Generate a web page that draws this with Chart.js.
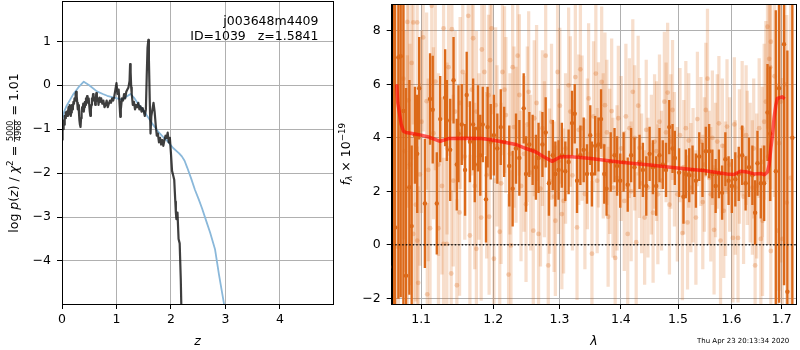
<!DOCTYPE html>
<html><head><meta charset="utf-8">
<script src="https://cdn.jsdelivr.net/npm/chart.js@4"></script>
<style>
html,body{margin:0;padding:0;background:#fff;}
#wrap{position:relative;width:800px;height:350px;}
canvas{position:absolute;left:0;top:0;}
</style></head><body>
<div id="wrap"><canvas id="c1" width="800" height="350"></canvas><canvas id="c2" width="800" height="350"></canvas></div>
<script>
// ---------- Left panel data ----------
const zTicks = [0, 1, 2, 3, 4];
const pzTicks = [-4, -3, -2, -1, 0, 1];
const zGrid = [0.00,0.01,0.02,0.03,0.04,0.05,0.06,0.07,0.08,0.09,0.10,0.11,0.12,0.13,0.14,0.15,0.16,0.17,0.18,0.19,0.20,0.21,0.22,0.23,0.24,0.25,0.26,0.27,0.28,0.29,0.30,0.31,0.32,0.33,0.34,0.35,0.36,0.37,0.38,0.39,0.40,0.41,0.42,0.43,0.44,0.45,0.46,0.47,0.48,0.49,0.50,0.51,0.52,0.53,0.54,0.55,0.56,0.57,0.58,0.59,0.60,0.61,0.62,0.63,0.64,0.65,0.66,0.67,0.68,0.69,0.70,0.72,0.74,0.76,0.78,0.80,0.82,0.84,0.86,0.88,0.90,0.92,0.94,0.96,0.98,1.00,1.02,1.04,1.06,1.07,1.08,1.10,1.12,1.14,1.16,1.18,1.20,1.22,1.24,1.25,1.26,1.27,1.28,1.30,1.32,1.34,1.36,1.38,1.40,1.42,1.44,1.46,1.48,1.50,1.52,1.54,1.555,1.57,1.585,1.595,1.61,1.625,1.64,1.66,1.68,1.70,1.72,1.74,1.76,1.78,1.80,1.82,1.84,1.86,1.88,1.90,1.92,1.94,1.96,1.98,2.00,2.02,2.04,2.06,2.08,2.09,2.10,2.12,2.14,2.16,2.18,2.20];
const logPz = [-1.24,-0.95,-1.0,-0.8,-0.9,-0.7,-0.75,-0.62,-0.68,-0.6,-0.7,-0.62,-0.5,-0.66,-0.45,-0.55,-0.7,-0.62,-0.45,-0.55,-0.5,-0.38,-0.42,-0.3,-0.35,-0.2,-0.15,-0.25,-0.4,-0.55,-0.45,-0.6,-0.8,-0.9,-0.95,-0.75,-0.6,-0.5,-0.55,-0.42,-0.6,-0.5,-0.38,-0.45,-0.3,-0.35,-0.25,-0.3,-0.4,-0.3,-0.45,-0.6,-0.7,-0.55,-0.45,-0.3,-0.35,-0.2,-0.25,-0.35,-0.3,-0.45,-0.3,-0.18,-0.25,-0.35,-0.3,-0.45,-0.35,-0.28,-0.38,-0.3,-0.42,-0.35,-0.5,-0.45,-0.35,-0.5,-0.42,-0.35,-0.4,-0.3,-0.35,-0.25,-0.1,0.05,-0.2,-0.1,-0.5,-0.72,-0.55,-0.3,-0.35,-0.2,-0.3,-0.15,-0.1,-0.05,0.1,0.48,0.3,-0.05,-0.2,-0.45,-0.38,-0.55,-0.45,-0.5,-0.4,-0.55,-0.48,-0.6,-0.52,-0.6,-0.7,-0.55,0.2,0.85,1.03,0.6,-0.3,-1.1,-0.7,-0.55,-0.4,-0.6,-0.9,-1.15,-1.1,-1.3,-1.2,-1.35,-1.25,-1.38,-1.25,-1.15,-1.2,-1.08,-1.3,-1.2,-1.55,-1.95,-2.05,-2.15,-2.65,-2.9,-3.05,-2.9,-3.5,-3.6,-4.4,-5.6];
const zPrior = [0,0.04,0.08,0.14,0.2,0.3,0.4,0.5,0.64,0.75,0.83,0.92,1.01,1.1,1.18,1.26,1.32,1.39,1.48,1.57,1.66,1.76,1.85,1.94,2.04,2.15,2.2,2.25,2.3,2.37,2.44,2.51,2.57,2.65,2.72,2.81,2.88,2.97,3.0];
const priorVals = [-0.83,-0.6,-0.48,-0.35,-0.22,-0.05,0.08,0.0,-0.14,-0.2,-0.24,-0.27,-0.3,-0.33,-0.26,-0.2,-0.28,-0.41,-0.55,-0.71,-0.88,-1.05,-1.17,-1.28,-1.43,-1.55,-1.62,-1.72,-1.88,-2.12,-2.38,-2.6,-2.8,-3.1,-3.36,-3.74,-4.3,-4.95,-5.2];

// ---------- Right panel data ----------
const lamTicks = [1.1, 1.2, 1.3, 1.4, 1.5, 1.6, 1.7];
const fluxTicks = [-2, 0, 2, 4, 6, 8];
const darkLam = [1.0638,1.066,1.0702,1.0732,1.0767,1.0801,1.0845,1.0875,1.0918,1.0948,1.0974,1.105,1.1119,1.1155,1.121,1.1256,1.1324,1.1347,1.1393,1.1439,1.1484,1.1507,1.1553,1.1599,1.1622,1.1667,1.1713,1.1736,1.1782,1.1814,1.185,1.1896,1.1919,1.1964,1.201,1.206,1.211,1.216,1.2235,1.2285,1.2335,1.2385,1.245,1.2485,1.2535,1.2585,1.2635,1.2675,1.2735,1.2785,1.2835,1.2895,1.2935,1.2985,1.3037,1.3091,1.3144,1.3198,1.3241,1.3278,1.3332,1.3385,1.3439,1.3492,1.3519,1.3572,1.3626,1.3669,1.3722,1.376,1.3829,1.3893,1.3936,1.3989,1.4046,1.4116,1.4174,1.4232,1.4319,1.4377,1.4436,1.4494,1.4552,1.461,1.4668,1.4726,1.4784,1.4842,1.4901,1.4942,1.5019,1.5099,1.5142,1.5204,1.5265,1.5327,1.5389,1.545,1.5512,1.5574,1.5635,1.5697,1.5759,1.582,1.5882,1.5944,1.6007,1.6074,1.6141,1.6208,1.6275,1.6342,1.6409,1.6463,1.651,1.6577,1.6644,1.6711,1.6765,1.6879,1.6946,1.7048,1.7117,1.722];
const darkFlux = [-0.83,0.65,7.0,7.05,5.0,-1.15,2.15,0.7,4.1,3.4,5.85,1.55,5.45,5.05,1.55,4.7,5.5,4.65,3.55,6.15,3.0,4.15,4.5,2.8,5.6,3.85,4.5,3.0,4.35,3.35,4.5,1.7,4.4,3.85,4.1,3.6,4.4,3.85,2.95,2.1,3.6,3.25,5.1,2.65,3.75,3.55,2.9,3.25,3.75,4.2,2.3,3.35,2.65,2.8,3.35,2.75,3.1,4.55,4.9,2.4,3.35,3.55,2.65,4.1,2.65,3.7,3.75,4.7,2.65,2.1,3.1,3.35,2.95,2.4,3.1,2.25,3.35,2.9,3.1,2.8,2.2,3.4,2.9,2.2,3.35,3.0,2.8,4.4,3.6,3.25,2.7,1.8,2.65,2.6,2.8,2.4,3.3,2.8,3.5,3.5,2.65,2.2,2.65,1.95,3.2,2.4,2.2,2.45,2.65,3.35,2.3,2.9,2.6,1.2,3.05,2.3,2.3,4.95,4.15,2.75,5.85,7.5,-1.75,4.0];
const darkErr = [10,10,9,9,8,7,4,3,1.8,2.2,1.9,2.4,1.7,2.0,1.9,1.6,1.8,1.5,1.9,1.6,1.7,1.8,1.5,1.7,1.6,1.5,1.7,1.4,1.6,1.5,1.4,1.6,1.5,1.4,1.5,1.3,1.4,1.3,1.5,1.4,1.3,1.4,1.3,1.4,1.2,1.3,1.2,1.3,1.2,1.3,1.2,1.3,1.2,1.1,1.2,1.1,1.2,1.2,1.1,1.2,1.1,1.2,1.1,1.1,1.2,1.1,1.0,1.1,1.1,1.0,1.1,1.0,1.1,1.0,1.1,1.0,1.0,1.1,1.0,1.0,1.1,1.0,1.0,1.1,1.0,0.9,1.0,1.0,0.9,1.0,0.9,1.0,0.9,1.0,0.9,1.0,0.9,1.0,0.9,1.0,0.9,1.0,0.9,1.0,1.0,0.9,1.0,1.0,1.0,1.1,1.0,1.1,1.1,1.2,1.2,1.3,1.4,1.8,2.5,6,8,9,9,10];
const lightLam = [1.0702,1.0767,1.0819,1.0819,1.0853,1.0896,1.0896,1.0948,1.0948,1.0961,1.0983,1.1027,1.1073,1.1082,1.1119,1.1142,1.1165,1.1233,1.1233,1.1302,1.1302,1.1347,1.137,1.1407,1.1416,1.1462,1.1485,1.1522,1.1567,1.1644,1.1667,1.1713,1.1759,1.1759,1.1827,1.1836,1.1873,1.1932,1.1941,1.1978,1.201,1.2035,1.2095,1.2135,1.2185,1.2225,1.226,1.2285,1.2335,1.236,1.241,1.2485,1.2525,1.2595,1.261,1.2675,1.2735,1.2785,1.2825,1.2845,1.2935,1.297,1.2985,1.3037,1.3064,1.3144,1.3171,1.3251,1.3278,1.3332,1.3359,1.3465,1.3519,1.3583,1.3626,1.3679,1.3733,1.3786,1.3813,1.3867,1.3904,1.3957,1.4058,1.4116,1.4145,1.4203,1.4261,1.4319,1.4407,1.4465,1.4581,1.4639,1.4668,1.4755,1.4813,1.4871,1.4901,1.4988,1.508,1.5142,1.5173,1.5234,1.5327,1.542,1.5512,1.5543,1.5605,1.5667,1.5728,1.5759,1.579,1.5852,1.5914,1.6027,1.6074,1.6127,1.6208,1.6309,1.6409,1.6463,1.6544,1.6577,1.6611,1.6678,1.6711,1.6745,1.6765,1.6778,1.6778,1.6912,1.698,1.7014,1.7103,
  1.0785,1.0830,1.0875,1.093,1.1005,1.1095,1.119,1.128,1.135,1.1435,1.153,1.1595,1.1695,1.1735,1.1795,1.1905,1.1955,1.2055,1.2115,1.2165,1.2245,1.2305,1.2385,1.2455,1.2505,1.2555,1.2645,1.2705,1.2765,1.2875,1.2915,1.3005,1.3095,1.3205,1.3305,1.3405,1.3445,1.3545,1.3605,1.3705,1.3765,1.3845,1.3935,1.4005,1.4085,1.4175,1.4235,1.4295,1.4355,1.4435,1.4525,1.4555,1.4615,1.4705,1.4785,1.4845,1.4935,1.5035,1.5105,1.5195,1.5275,1.5355,1.5455,1.5485,1.5575,1.5635,1.5695,1.5825,1.5885,1.5965,1.6055,1.6155,1.6235,1.6285,1.6365,1.6435,1.6495,1.6605,1.6645,1.6725,1.6855,1.6945,1.7065,1.7185];
const lightFlux = [-0.09,6.21,8.33,2.07,3.0,8.31,0.41,8.31,0.16,-1.42,2.63,7.75,5.37,-1.85,0.62,8.93,4.17,0.62,3.0,8.09,0.04,0.04,6.64,-1.07,8.06,4.98,-1.51,1.21,6.46,8.56,0.35,7.72,-0.15,4.98,1.02,7.3,6.46,5.59,1.05,8.09,-0.52,5.22,0.49,6.46,4.85,-1.11,-0.02,6.64,3.74,7.07,2.2,1.52,5.72,0.53,4.73,0.41,4.36,7.07,-0.77,2.38,0.9,6.46,3.12,1.15,1.64,5.96,4.98,6.27,0.65,6.56,4.36,5.47,-0.33,6.4,4.11,6.09,5.22,1.05,3.12,2.14,-0.49,4.73,1.64,0.41,4.36,5.72,0.1,3.62,1.02,2.14,3.86,1.89,4.6,5.35,5.69,3.86,5.04,1.89,0.44,4.36,0.84,2.14,1.02,3.86,5.04,6.21,1.89,0.56,3.86,4.54,0.16,1.27,4.42,0.26,2.14,0.26,4.36,3.25,2.14,-0.77,4.36,0.22,0.9,5.35,8.15,6.95,6.64,7.59,-0.23,0.53,5.35,0.22,1.58,
  3.5,5.4,6.8,1.5,4.6,2.8,6.1,2.2,3.6,2.4,5.3,3.3,5.8,2.2,3.3,2.6,6.9,3.7,2.3,5.8,3.4,4.4,5.6,3.4,4.5,2.7,5.3,2.1,3.2,4.6,1.8,5.2,3.6,2.6,4.3,1.9,3.4,4.8,2.4,3.7,4.2,5.0,2.5,3.6,4.8,2.0,4.0,5.2,2.3,4.3,3.0,1.2,3.5,2.4,4.2,1.5,3.2,4.1,2.9,3.9,2.6,4.7,1.6,3.0,2.5,4.0,2.8,3.7,2.1,3.0,4.5,3.3,1.8,4.1,2.7,3.6,2.2,3.1,4.6,3.3,6.3,3.8,6.0,2.5];
const lightErr = [7,6,5.5,5,4.5,3.8,3.6,3.6,3.5,3.6,3.4,3.5,3.3,3.4,3.3,3.5,3.2,3.3,3.4,3.4,3.2,3.2,3.3,3.1,3.4,3.0,3.2,3.1,3.3,3.4,3.0,3.2,3.1,3.0,3.1,3.3,3.1,3.0,2.9,3.2,3.0,2.9,3.0,3.1,2.9,3.0,2.8,3.1,2.9,3.1,2.8,2.9,3.0,2.8,2.9,2.8,2.9,3.0,2.8,2.7,2.8,2.9,2.7,2.8,2.7,2.9,2.8,2.9,2.7,2.9,2.7,2.8,2.7,2.9,2.7,2.8,2.7,2.6,2.7,2.6,2.7,2.7,2.6,2.7,2.6,2.7,2.6,2.6,2.5,2.6,2.5,2.6,2.5,2.6,2.6,2.5,2.6,2.5,2.5,2.5,2.5,2.4,2.5,2.4,2.5,2.6,2.5,2.4,2.5,2.5,2.4,2.5,2.5,2.4,2.5,2.4,2.5,2.5,2.5,2.6,2.6,2.7,2.8,3.0,3.8,4.5,5,5.5,4.5,5.5,6,6,7,
  4.5,4,3.6,3.6,3.4,3.4,3.3,3.3,3.2,3.2,3.2,3.1,3.2,3.1,3.1,3.1,3.2,3.0,3.0,3.1,3.0,3.0,3.0,2.9,2.9,2.9,2.9,2.9,2.9,2.9,2.8,2.9,2.8,2.8,2.8,2.8,2.8,2.8,2.7,2.7,2.7,2.7,2.7,2.7,2.7,2.6,2.7,2.6,2.6,2.6,2.6,2.6,2.6,2.6,2.6,2.6,2.5,2.5,2.5,2.5,2.5,2.5,2.5,2.5,2.5,2.5,2.5,2.5,2.5,2.5,2.5,2.5,2.5,2.6,2.6,2.6,2.7,2.8,2.9,3.3,4.5,5.5,6,7];
const modelLam = [1.068,1.0695,1.0717,1.0739,1.0767,1.08,1.09,1.10,1.11,1.1256,1.137,1.16,1.1827,1.1966,1.2085,1.2335,1.2485,1.2635,1.276,1.2885,1.301,1.3144,1.3465,1.4,1.45,1.4988,1.55,1.5914,1.6047,1.6174,1.6309,1.6443,1.6577,1.665,1.671,1.6745,1.6778,1.6812,1.6845,1.6878,1.691,1.696,1.701,1.706];
const modelFlux = [6.0,5.3,4.9,4.5,4.25,4.2,4.15,4.1,4.03,3.87,3.97,3.98,3.97,3.93,3.87,3.75,3.6,3.47,3.28,3.12,3.28,3.3,3.24,3.09,2.98,2.87,2.77,2.65,2.63,2.75,2.72,2.65,2.67,2.62,2.72,3.0,3.6,4.1,4.76,5.2,5.47,5.5,5.53,5.45];

// ---------- Text ----------
const objName = 'j003648m4409';
const objInfo = 'ID=1039   z=1.5841';
const stamp = 'Thu Apr 23 20:13:34 2020';

const FONT = "'DejaVu Sans', 'Liberation Sans', sans-serif";
Chart.defaults.font.family = FONT;
Chart.defaults.font.size = 12.5;
Chart.defaults.color = '#000';

const ORANGE = 'rgb(220,105,25)';
const ORANGE_BAR_LIGHT = 'rgba(220,105,25,0.22)';
const ORANGE_DOT_LIGHT = 'rgba(220,105,25,0.28)';

function minus(v){ return String(v).replace('-', '\u2212'); }

function axis(opts){
  const {type, min, max, ticks, size, horizontal, fmt} = opts;
  return {
    type, min, max, offset:false,
    afterBuildTicks: (s) => { s.ticks = ticks.map(v => ({value:v})); },
    afterFit: (s) => {
      if (horizontal) s.height = size; else s.width = size;
      s.paddingLeft = 0; s.paddingRight = 0; s.paddingTop = 0; s.paddingBottom = 0;
    },
    ticks: {
      autoSkip:false, maxRotation:0, minRotation:0,
      padding: horizontal ? 3 : 6,
      font:{size:12.5, family:FONT}, color:'#000',
      callback: fmt
    },
    grid: {offset:false, color:'#b0b0b0', lineWidth:1, tickColor:'#000', tickLength:5, drawTicks:true},
    border: {display:true, color:'#000', width:1}
  };
}

const framePlugin = {
  id:'frame',
  afterDatasetsDraw(chart){
    const {ctx, chartArea:a} = chart;
    ctx.save();
    ctx.strokeStyle = '#000'; ctx.lineWidth = 1;
    ctx.strokeRect(Math.round(a.left)+0.5, Math.round(a.top)+0.5, Math.round(a.right)-Math.round(a.left), Math.round(a.bottom)-Math.round(a.top));
    ctx.restore();
  }
};

function drawRotatedRich(ctx, cx, cy, parts){
  ctx.save();
  ctx.translate(cx, cy);
  ctx.rotate(-Math.PI/2);
  ctx.fillStyle = '#000';
  ctx.textBaseline = 'alphabetic';
  ctx.textAlign = 'left';
  const widths = parts.map(p => {
    ctx.font = p.font;
    if (p.frac) return Math.max(ctx.measureText(p.frac[0]).width, ctx.measureText(p.frac[1]).width) + 2;
    return ctx.measureText(p.t).width;
  });
  const total = widths.reduce((a,b)=>a+b,0);
  let x = -total/2;
  parts.forEach((p,i) => {
    ctx.font = p.font;
    if (p.frac){
      const w = widths[i];
      const nw = ctx.measureText(p.frac[0]).width, dw = ctx.measureText(p.frac[1]).width;
      ctx.fillText(p.frac[0], x + (w-nw)/2, p.numDy);
      ctx.fillText(p.frac[1], x + (w-dw)/2, p.denDy);
      ctx.fillRect(x, p.barDy, w, 0.8);
    } else {
      ctx.fillText(p.t, x, p.dy || 0);
    }
    x += widths[i];
  });
  ctx.restore();
}

const N = '12.5px ' + FONT, I = 'italic 12.5px ' + FONT, S = '8.75px ' + FONT, SI = 'italic 8.75px ' + FONT;

const leftText = {
  id:'leftText',
  afterDraw(chart){
    const ctx = chart.ctx, a = chart.chartArea;
    drawRotatedRich(ctx, 17.5, 153, [
      {t:'log ', font:N}, {t:'p', font:I}, {t:'(', font:N}, {t:'z', font:I}, {t:') / ', font:N},
      {t:'\u03c7', font:I}, {t:'2', font:S, dy:-5}, {t:' = ', font:N},
      {frac:['5000','4968'], font:'8px ' + FONT, numDy:-4.3, denDy:3.6, barDy:-3.3},
      {t:' = 1.01', font:N}
    ]);
    ctx.save();
    ctx.fillStyle = '#000';
    ctx.font = N; ctx.textAlign = 'right'; ctx.textBaseline = 'alphabetic';
    ctx.fillText(objName, 318.5, 25);
    ctx.fillText(objInfo, 318.5, 39.5);
    ctx.font = I; ctx.textAlign = 'center';
    ctx.fillText('z', (a.left + a.right)/2, 345);
    ctx.restore();
  }
};

const rightText = {
  id:'rightText',
  afterDraw(chart){
    const ctx = chart.ctx, a = chart.chartArea;
    drawRotatedRich(ctx, 349.5, 154, [
      {t:'f', font:I}, {t:'\u03bb', font:SI, dy:2.5}, {t:' \u00d7 10', font:N}, {t:'\u221219', font:S, dy:-5}
    ]);
    ctx.save();
    ctx.fillStyle = '#000';
    ctx.font = I; ctx.textAlign = 'center'; ctx.textBaseline = 'alphabetic';
    ctx.fillText('\u03bb', (a.left + a.right)/2, 345);
    ctx.font = '7px ' + FONT; ctx.textAlign = 'left';
    ctx.fillText(stamp, 697, 342.5);
    ctx.restore();
  }
};

const xy = (xs, ys) => xs.map((x,i) => ({x, y: ys[i]}));
const bars = (xs, ys, es) => xs.map((x,i) => ({x, y: [ys[i]-es[i], ys[i]+es[i]]}));

new Chart(document.getElementById('c1'), {
  type:'scatter',
  data:{ datasets:[
    {label:'prior', data: xy(zPrior, priorVals), showLine:true, pointRadius:0, borderColor:'rgb(138,184,218)', borderWidth:1.8, order:2, clip:0, borderJoinStyle:'round'},
    {label:'pz', data: xy(zGrid, logPz), showLine:true, pointRadius:0, borderColor:'rgba(20,20,20,0.82)', borderWidth:2.2, order:1, clip:0, borderJoinStyle:'round'}
  ]},
  options:{
    responsive:false, animation:false, events:[], devicePixelRatio:1,
    layout:{padding:{left:0, top:1.3, right:800-333.3, bottom:0}},
    plugins:{legend:{display:false}, tooltip:{enabled:false}},
    scales:{
      x: axis({type:'linear', min:0, max:4.98, ticks:zTicks, size:46, horizontal:true, fmt:(v)=>minus(v)}),
      y: axis({type:'linear', min:-4.98, max:1.91, ticks:pzTicks, size:62, horizontal:false, fmt:(v)=>minus(v)})
    }
  },
  plugins:[framePlugin, leftText]
});

new Chart(document.getElementById('c2'), {
  type:'scatter',
  data:{ datasets:[
    {type:'bar', label:'lightErr', data: bars(lightLam, lightFlux, lightErr), backgroundColor:ORANGE_BAR_LIGHT, borderWidth:0, barThickness:2.6, grouped:false, order:6},
    {type:'scatter', label:'light', data: xy(lightLam, lightFlux), pointRadius:2.4, backgroundColor:ORANGE_DOT_LIGHT, borderWidth:0, order:5},
    {type:'bar', label:'darkErr', data: bars(darkLam, darkFlux, darkErr), backgroundColor:ORANGE, borderWidth:0, barThickness:1.7, grouped:false, order:4},
    {type:'scatter', label:'dark', data: xy(darkLam, darkFlux), pointRadius:2.2, backgroundColor:ORANGE, borderWidth:0, order:3},
    {type:'scatter', label:'zero', data: xy([1.0616, 1.7296], [0, 0]), showLine:true, pointRadius:0, borderColor:'rgba(0,0,0,0.85)', borderWidth:1.5, borderDash:[1.5,2], order:2, clip:0},
    {type:'scatter', label:'model', data: xy(modelLam, modelFlux), showLine:true, pointRadius:0, borderColor:'rgba(255,0,0,0.62)', borderWidth:3.5, order:1, clip:0, borderJoinStyle:'round'}
  ]},
  options:{
    responsive:false, animation:false, events:[], devicePixelRatio:1,
    layout:{padding:{left:0, top:1.3, right:1.3, bottom:0}},
    plugins:{legend:{display:false}, tooltip:{enabled:false}},
    scales:{
      x: axis({type:'logarithmic', min:1.0616, max:1.7296, ticks:lamTicks, size:46, horizontal:true, fmt:(v)=>Number(v).toFixed(1)}),
      y: axis({type:'linear', min:-2.21, max:9.0, ticks:fluxTicks, size:391.7, horizontal:false, fmt:(v)=>minus(v)})
    }
  },
  plugins:[framePlugin, rightText]
});
</script>
</body></html>
